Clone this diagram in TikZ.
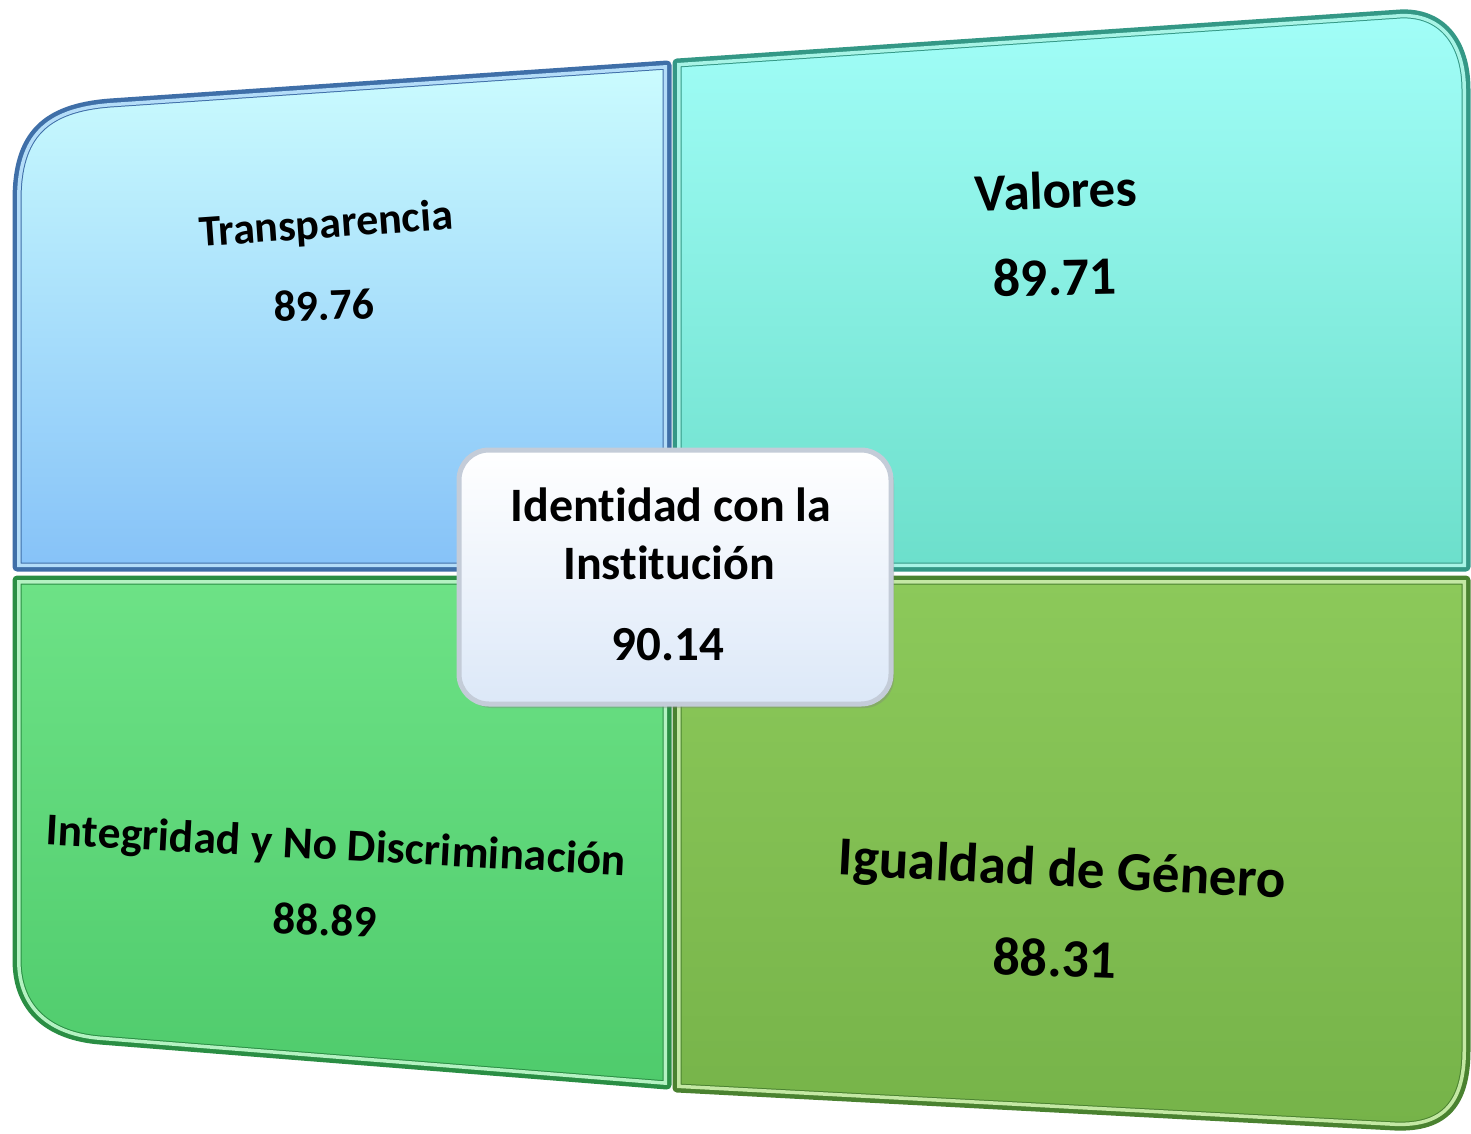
\documentclass[tikz,border=0pt]{standalone}
\usepackage{fontspec}
\setmainfont{Carlito}[RawFeature=-liga]
\usetikzlibrary{shadows}
\definecolor{tlTop}{HTML}{CBFCFE}
\definecolor{tlBot}{HTML}{86C2F8}
\definecolor{tlEdge}{HTML}{3F6FA8}
\definecolor{tlHi}{HTML}{B4DDF8}
\definecolor{trTop}{HTML}{A2FEF8}
\definecolor{trBot}{HTML}{6CDFCB}
\definecolor{trEdge}{HTML}{349886}
\definecolor{trHi}{HTML}{A8F4E6}
\definecolor{blTop}{HTML}{6DE286}
\definecolor{blBot}{HTML}{4FCB6C}
\definecolor{blEdge}{HTML}{2A8E44}
\definecolor{blHi}{HTML}{B4F2C2}
\definecolor{brTop}{HTML}{8CC95A}
\definecolor{brBot}{HTML}{76B349}
\definecolor{brEdge}{HTML}{4A8230}
\definecolor{brHi}{HTML}{C4E8A4}
\definecolor{cbBot}{HTML}{DCE8F8}
\definecolor{cbEdge}{HTML}{C4CCD8}
\newcommand\fsz[1]{\fontsize{#1}{#1}\selectfont\bfseries}
\newcommand\quadrant[5]{%
  \shade[top color=#2,bottom color=#3] #1;
  \draw[line width=9pt,line join=round,draw=#4] #1;
  \begin{scope}
    \clip #1;
    \draw[line width=7pt,line join=round,draw=#5] #1;
  \end{scope}}
\begin{document}
\begin{tikzpicture}[x=1pt,y=-1pt,
  lbl/.style={inner sep=0pt,text=black}]
\useasboundingbox[fill=white] (0,0) rectangle (1471,1133);
% quadrants
\def\TL{(17,567) -- (17,200) .. controls (17,135) and (45,108) .. (110,103) -- (667,65) -- (667,567) -- cycle}
\def\TR{(677,567) -- (677,63) -- (1400,14) .. controls (1440,12) and (1466,40) .. (1466,90) -- (1466,567) -- cycle}
\def\BL{(17,580) -- (667,580) -- (667,1085) -- (100,1040) .. controls (50,1036) and (17,1010) .. (17,960) -- cycle}
\def\BR{(677,580) -- (1466,580) -- (1466,1050) .. controls (1466,1103) and (1445,1128) .. (1395,1126) -- (677,1088) -- cycle}
\quadrant{\TL}{tlTop}{tlBot}{tlEdge}{tlHi}
\quadrant{\TR}{trTop}{trBot}{trEdge}{trHi}
\quadrant{\BL}{blTop}{blBot}{blEdge}{blHi}
\quadrant{\BR}{brTop}{brBot}{brEdge}{brHi}
% centre box
\node[draw=cbEdge,line width=5pt,rounded corners=30pt,minimum width=432pt,minimum height=254pt,
  top color=white,bottom color=cbBot,drop shadow={opacity=0.35,shadow xshift=3pt,shadow yshift=-4pt}] (cbox) at (675,577) {};
% labels
\node[lbl,font=\fsz{44},rotate=4] (t1) at (326,226) {Transparencia};
\node[lbl,font=\fsz{44},rotate=2] (v1) at (324,305) {89.76};
\node[lbl,font=\fsz{53},rotate=2] (t2) at (1056,190) {Valores};
\node[lbl,font=\fsz{54},rotate=1] (v2) at (1055,277) {89.71};
\node[lbl,font=\fsz{48}] (t3) at (671,505) {Identidad con la};
\node[lbl,font=\fsz{48}] (t3b) at (669,563) {Institución};
\node[lbl,font=\fsz{49}] (v3) at (668,645) {90.14};
\node[lbl,font=\fsz{45.5},rotate=-3] (t4) at (336,848) {Integridad y No Discriminación};
\node[lbl,font=\fsz{45},rotate=-2] (v4) at (325,920) {88.89};
\node[lbl,font=\fsz{55},rotate=-3] (t5) at (1062,872) {Igualdad de Género};
\node[lbl,font=\fsz{54},rotate=-2] (v5) at (1055,958) {88.31};
\end{tikzpicture}
\end{document}
